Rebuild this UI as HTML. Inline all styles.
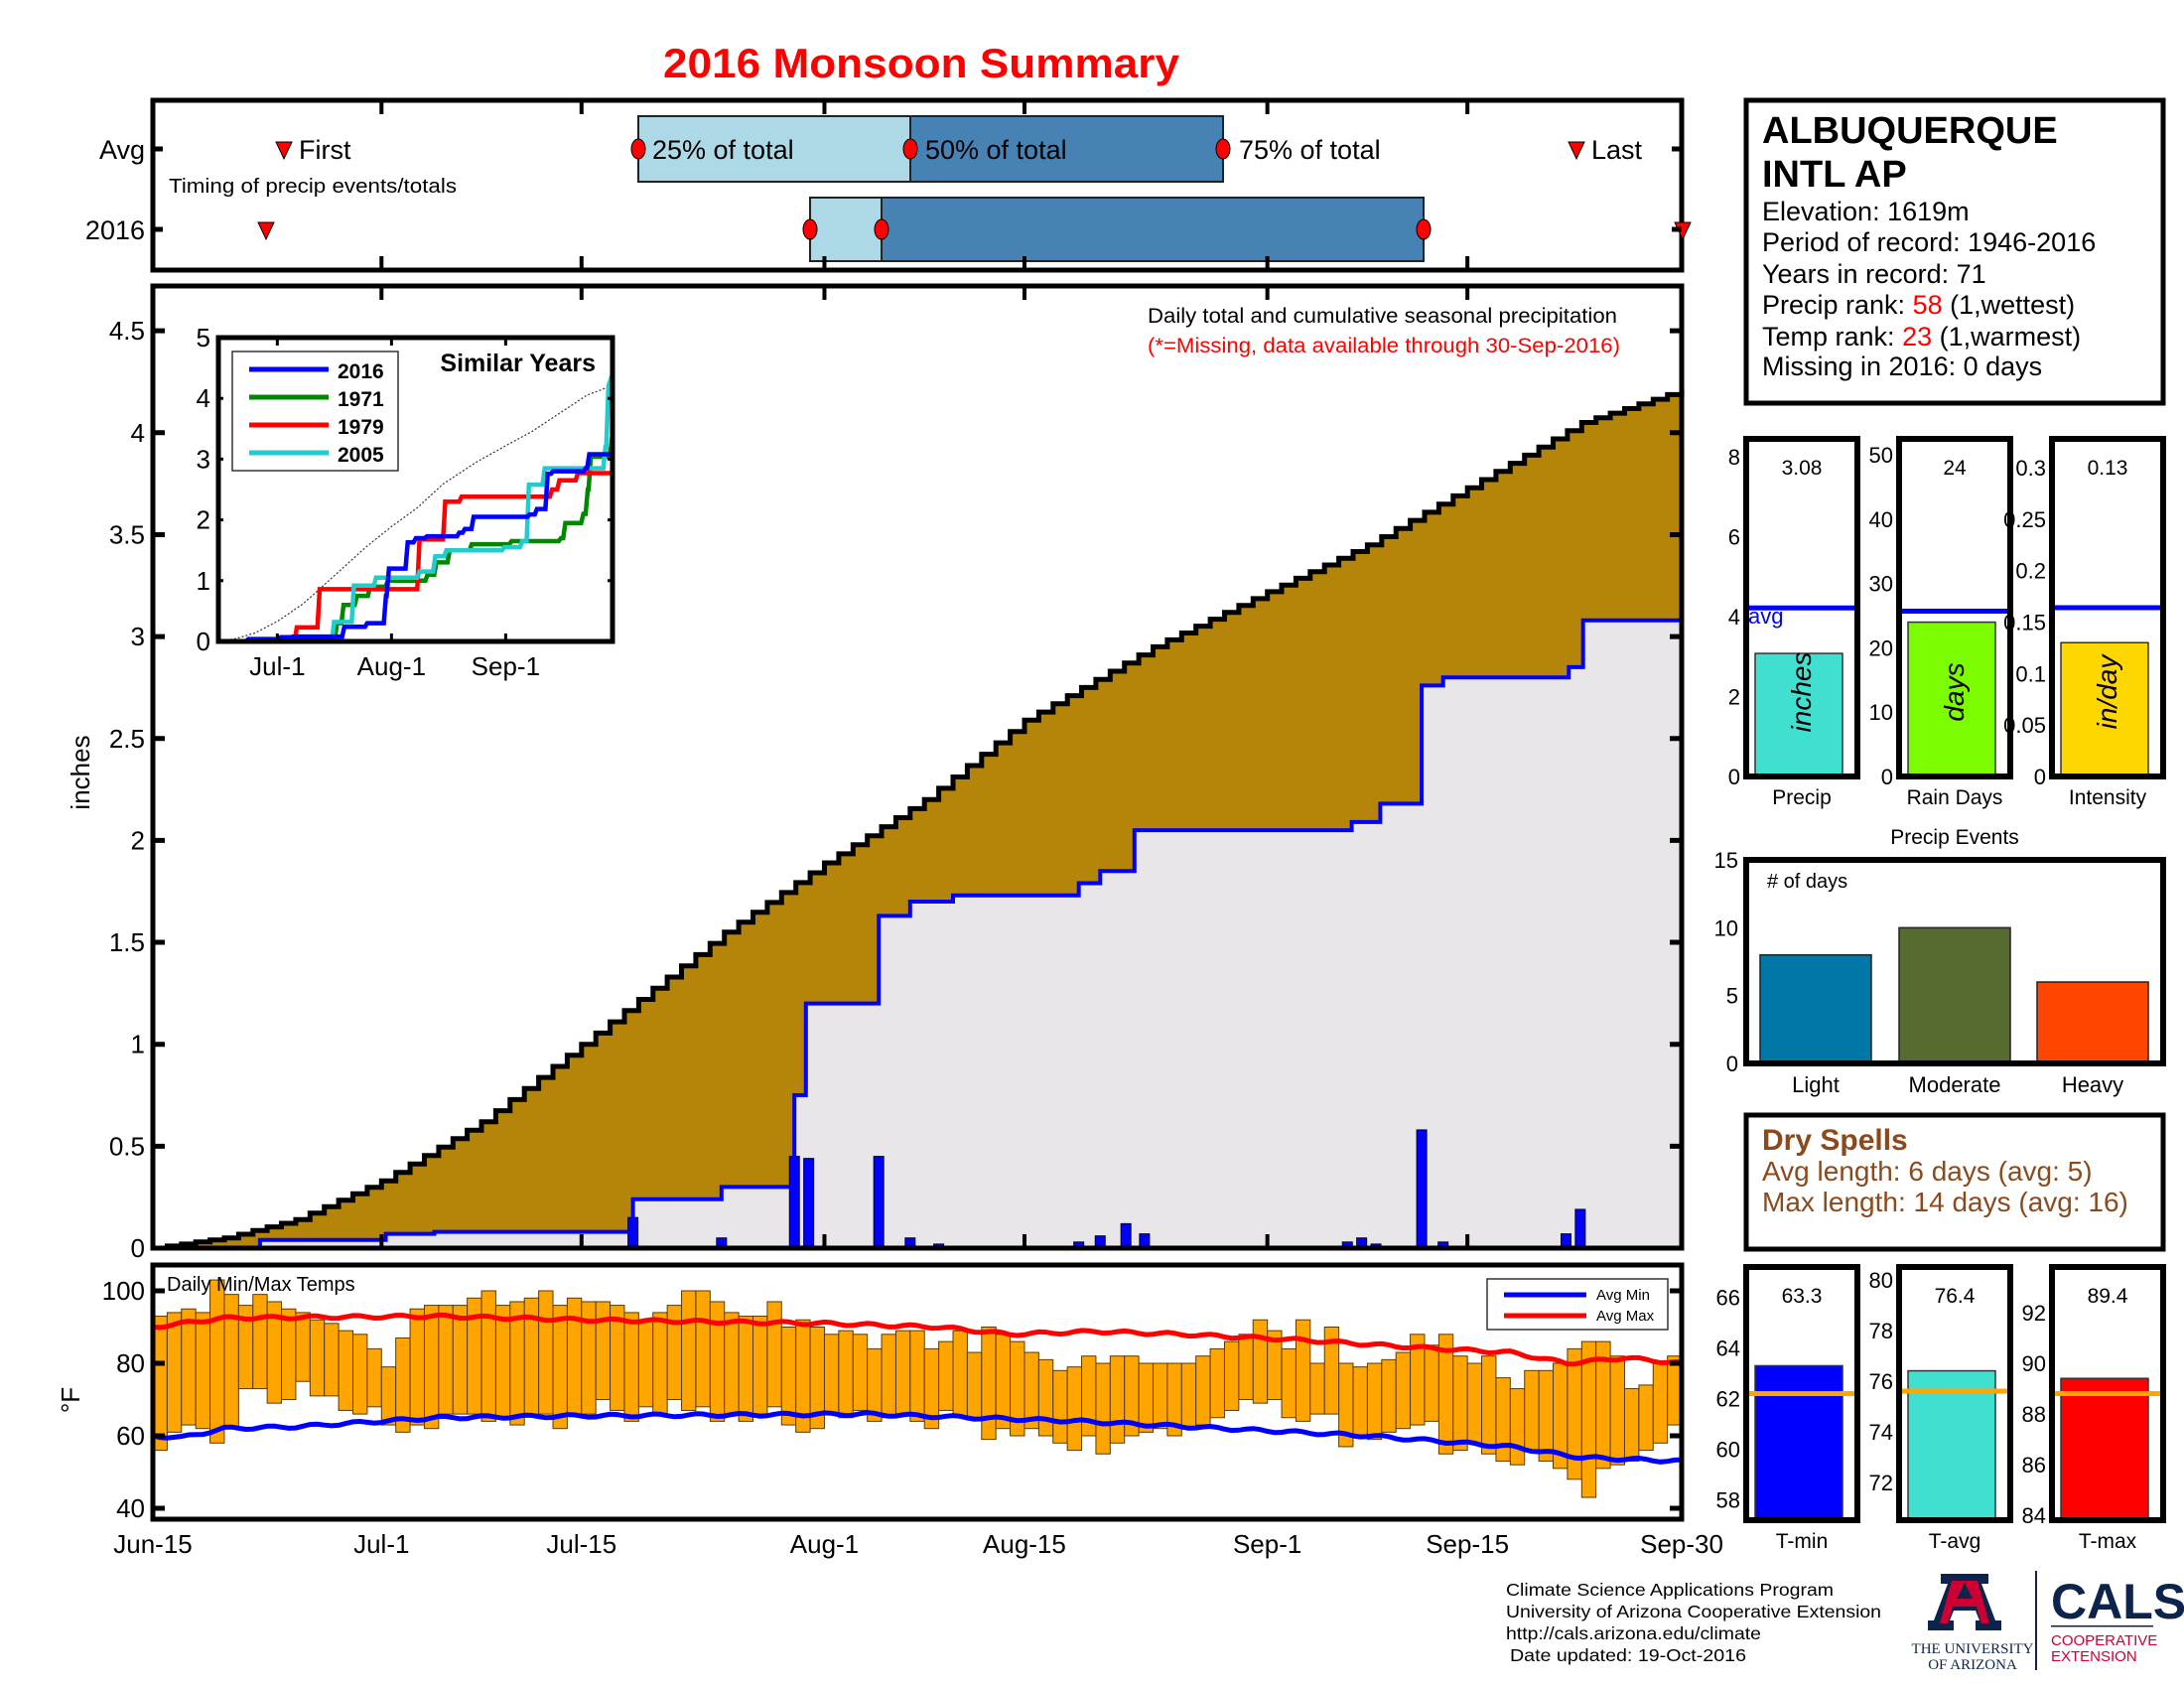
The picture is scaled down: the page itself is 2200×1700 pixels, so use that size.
<!DOCTYPE html>
<html><head><meta charset="utf-8"><style>
html,body{margin:0;padding:0;background:#fff;}
svg{display:block;font-family:"Liberation Sans",sans-serif;}
</style></head><body>
<svg id="s" width="2200" height="1700" viewBox="0 0 2200 1700" xmlns="http://www.w3.org/2000/svg">
<text x="928" y="78" font-size="42" font-weight="bold" fill="#f00" text-anchor="middle" textLength="520" lengthAdjust="spacingAndGlyphs">2016 Monsoon Summary</text>

<!-- top timing panel -->
<g id="top">
<rect x="643" y="117" width="274" height="66" fill="#add8e6" stroke="#222" stroke-width="2"/>
<rect x="917" y="117" width="315" height="66" fill="#4682b4" stroke="#222" stroke-width="2"/>
<rect x="816" y="199" width="72" height="64" fill="#add8e6" stroke="#222" stroke-width="2"/>
<rect x="888" y="199" width="546" height="64" fill="#4682b4" stroke="#222" stroke-width="2"/>
<rect x="154" y="101" width="1540" height="171" fill="none" stroke="#000" stroke-width="5"/>
<ellipse cx="643" cy="150" rx="7" ry="10" fill="#f00" stroke="#000"/>
<ellipse cx="917" cy="150" rx="7" ry="10" fill="#f00" stroke="#000"/>
<ellipse cx="1232" cy="150" rx="7" ry="10" fill="#f00" stroke="#000"/>
<ellipse cx="816" cy="231" rx="7" ry="10" fill="#f00" stroke="#000"/>
<ellipse cx="888" cy="231" rx="7" ry="10" fill="#f00" stroke="#000"/>
<ellipse cx="1434" cy="231" rx="7" ry="10" fill="#f00" stroke="#000"/>
<path d="M278 143 L294 143 L286 160 Z" fill="#f00" stroke="#000"/>
<path d="M1580 143 L1596 143 L1588 160 Z" fill="#f00" stroke="#000"/>
<path d="M260 224 L276 224 L268 241 Z" fill="#f00" stroke="#000"/>
<path d="M1687 224 L1703 224 L1695 241 Z" fill="#f00" stroke="#000"/>
<g font-size="27">
<text x="301" y="160">First</text>
<text x="1603" y="160">Last</text>
<text x="657" y="160">25% of total</text>
<text x="932" y="160">50% of total</text>
<text x="1248" y="160">75% of total</text>
<text x="146" y="160" text-anchor="end">Avg</text>
<text x="146" y="241" text-anchor="end">2016</text>
</g>
<text x="170" y="194" font-size="20" textLength="290" lengthAdjust="spacingAndGlyphs">Timing of precip events/totals</text>
<path d="M154 150h10M154 231h10M1694 150h-10M1694 231h-10" stroke="#000" stroke-width="5"/>
</g>

<g id="main"></g>
<g id="inset"></g>
<g id="temp"></g>

<!-- station box -->
<rect x="1759" y="101" width="420" height="305" fill="none" stroke="#000" stroke-width="5"/>
<g font-size="38" font-weight="bold"><text x="1775" y="144">ALBUQUERQUE</text><text x="1775" y="188">INTL AP</text></g>
<g font-size="27">
<text x="1775" y="222">Elevation: 1619m</text>
<text x="1775" y="253">Period of record: 1946-2016</text>
<text x="1775" y="285">Years in record: 71</text>
<text x="1775" y="316">Precip rank: <tspan fill="#f00">58</tspan> (1,wettest)</text>
<text x="1775" y="348">Temp rank: <tspan fill="#f00">23</tspan> (1,warmest)</text>
<text x="1775" y="378">Missing in 2016: 0 days</text>
</g>

<g id="small"></g>

<!-- dry spells -->
<rect x="1759" y="1123" width="420" height="135" fill="none" stroke="#000" stroke-width="5"/>
<g fill="#8c4a1c" font-size="28"><text x="1775" y="1158" font-weight="bold" font-size="30">Dry Spells</text>
<text x="1775" y="1189">Avg length: 6 days (avg: 5)</text>
<text x="1775" y="1220">Max length: 14 days (avg: 16)</text></g>

<!-- footer -->
<g font-size="17.5">
<text x="1517" y="1607" textLength="330" lengthAdjust="spacingAndGlyphs">Climate Science Applications Program</text>
<text x="1517" y="1629" textLength="378" lengthAdjust="spacingAndGlyphs">University of Arizona Cooperative Extension</text>
<text x="1517" y="1651" textLength="257" lengthAdjust="spacingAndGlyphs">http://cals.arizona.edu/climate</text>
<text x="1521" y="1673" textLength="238" lengthAdjust="spacingAndGlyphs">Date updated: 19-Oct-2016</text>
</g>
<!-- logos -->
<g>
<path d="M1955 1585 L2003 1585 L2003 1595 L1996 1595 L2010 1632 L2016 1632 L2016 1642 L1990 1642 L1990 1632 L1994 1632 L1990 1622 L1968 1622 L1964 1632 L1968 1632 L1968 1642 L1942 1642 L1942 1632 L1948 1632 L1962 1595 L1955 1595 Z" fill="#0c234b"/>
<path d="M1966 1592 L1992 1592 L2004 1635 L1996 1635 L1991 1618 L1967 1618 L1962 1635 L1954 1635 Z M1971 1610 L1987 1610 L1979 1594 Z" fill="#cc0033"/>
<text x="1987" y="1665" font-size="15" fill="#0c234b" text-anchor="middle" font-family="Liberation Serif,serif">THE UNIVERSITY</text>
<text x="1987" y="1681" font-size="15" fill="#0c234b" text-anchor="middle" font-family="Liberation Serif,serif">OF ARIZONA</text>
<rect x="2050" y="1582" width="2" height="100" fill="#0c234b"/>
<text x="2066" y="1630" font-size="50" font-weight="bold" fill="#0c234b">CALS</text>
<rect x="2066" y="1637" width="103" height="1.5" fill="#0c234b"/>
<text x="2066" y="1657" font-size="15" fill="#cc0033">COOPERATIVE</text>
<text x="2066" y="1673" font-size="15" fill="#cc0033">EXTENSION</text>
</g>
</svg>
<script>
var NS="http://www.w3.org/2000/svg";
function el(parent,tag,attrs,txt){var e=document.createElementNS(NS,tag);for(var k in attrs)e.setAttribute(k,attrs[k]);if(txt!=null)e.textContent=txt;document.getElementById(parent).appendChild(e);return e;}
function X(d){return 154+14.393*d;}
function Y(v){return 1257-205.3*v;}
function interp(pts,d){if(d<=pts[0][0])return pts[0][1];for(var i=1;i<pts.length;i++){if(d<=pts[i][0]){var a=pts[i-1],b=pts[i];return a[1]+(b[1]-a[1])*(d-a[0])/(b[0]-a[0]);}}return pts[pts.length-1][1];}
var N=107;
var avgPts=[[0,0],[5,0.05],[10,0.14],[16,0.33],[23,0.62],[30,1.0],[40,1.55],[47,1.89],[54,2.2],[61,2.59],[70,2.95],[78,3.22],[85,3.45],[92,3.73],[100,4.05],[107,4.21]];
var avg=[];for(var d=0;d<=N;d++)avg.push(interp(avgPts,d));
var s16=[[7.5,0.04],[16.3,0.07],[19.7,0.08],[33.6,0.24],[39.8,0.3],[44.9,0.75],[45.7,1.2],[50.8,1.63],[53,1.7],[56,1.73],[64.8,1.79],[66.3,1.85],[68.7,2.05],[83.9,2.09],[85.9,2.18],[88.8,2.76],[90.3,2.8],[99.1,2.85],[100.1,3.08]];
(function(){
 var g='main';
 el(g,'rect',{x:154,y:288,width:1540,height:969,fill:'#fff'});
 var blue="M"+X(0)+" "+Y(0);var cur=0;
 for(var i=0;i<s16.length;i++){blue+=" L"+X(s16[i][0]).toFixed(1)+" "+Y(cur).toFixed(1)+" L"+X(s16[i][0]).toFixed(1)+" "+Y(s16[i][1]).toFixed(1);cur=s16[i][1];}
 blue+=" L"+X(N)+" "+Y(cur).toFixed(1);
 var blk="M"+X(0)+" "+Y(0);
 for(var d=1;d<=N;d++){blk+=" L"+X(d).toFixed(1)+" "+Y(avg[d-1]).toFixed(1)+" L"+X(d).toFixed(1)+" "+Y(avg[d]).toFixed(1);}
 el(g,'path',{d:blk+" L"+X(N)+" 1257 L154 1257 Z",fill:'#b5850a'});
 el(g,'path',{d:blue+" L"+X(N)+" 1257 L154 1257 Z",fill:'#e8e6e9'});
 var bars=[[33.6,0.15],[39.8,0.05],[44.9,0.45],[45.9,0.44],[50.8,0.45],[53,0.05],[55,0.02],[64.8,0.03],[66.3,0.06],[68.1,0.12],[69.4,0.07],[83.6,0.03],[84.6,0.05],[85.6,0.02],[88.8,0.58],[90.3,0.03],[98.9,0.07],[99.9,0.19]];
 bars.forEach(function(b){el(g,'rect',{x:X(b[0])-5,y:Y(b[1]),width:10,height:205.3*b[1],fill:'#00f',stroke:'#003',"stroke-width":1});});
 el(g,'path',{d:blue,fill:'none',stroke:'#00f','stroke-width':4});
 el(g,'path',{d:blk,fill:'none',stroke:'#000','stroke-width':5});
 el(g,'rect',{x:154,y:288,width:1540,height:969,fill:'none',stroke:'#000','stroke-width':5});
 var ticks=[16,30,47,61,78,92];
 ticks.forEach(function(d){el(g,'path',{d:"M"+X(d)+" 288v14M"+X(d)+" 1257v-14M"+X(d)+" 101v14M"+X(d)+" 272v-14M"+X(d)+" 1274v14M"+X(d)+" 1530v-14",stroke:'#000','stroke-width':4});});
 for(var v=0;v<=4.5;v+=0.5){var y=Y(v);el(g,'path',{d:"M154 "+y+"h12M1694 "+y+"h-12",stroke:'#000','stroke-width':5});
  el(g,'text',{x:146,y:y+9,'font-size':26,'text-anchor':'end'},(v===0?'0':String(v)));}
 el(g,'text',{x:0,y:0,'font-size':26,transform:'translate(90,778) rotate(-90)','text-anchor':'middle'},'inches');
 el(g,'text',{x:1156,y:325,'font-size':21,textLength:473,lengthAdjust:'spacingAndGlyphs'},'Daily total and cumulative seasonal precipitation');
 el(g,'text',{x:1156,y:355,'font-size':21,fill:'#f00',textLength:476,lengthAdjust:'spacingAndGlyphs'},'(*=Missing, data available through 30-Sep-2016)');
})();
(function(){
 var g='inset';
 function IX(d){return 220+3.71*d;} function IY(v){return 646-61.2*v;}
 el(g,'rect',{x:220,y:340,width:397,height:306,fill:'#fff'});
 var dp="M"+IX(0)+" "+IY(0);for(var d=1;d<=N;d++)dp+=" L"+IX(d).toFixed(1)+" "+IY(avg[d]).toFixed(1);
 el(g,'path',{d:dp,fill:'none',stroke:'#333','stroke-width':1.2,'stroke-dasharray':'2,2'});
 function sline(steps,col,end){var p="M"+IX(0)+" "+IY(0),c=0;steps.forEach(function(s){p+=" L"+IX(s[0]).toFixed(1)+" "+IY(c).toFixed(1)+" L"+IX(s[0]+0.6).toFixed(1)+" "+IY(s[1]).toFixed(1);c=s[1];});p+=" L"+IX(N)+" "+IY(end!=null?end:c).toFixed(1);el(g,'path',{d:p,fill:'none',stroke:col,'stroke-width':4.5});}
 sline([[20.7,0.04],[31.6,0.3],[33.4,0.6],[37,0.75],[40.6,0.9],[45.4,1.0],[56.2,1.1],[58.6,1.3],[62.2,1.5],[68.2,1.6],[79,1.65],[92.4,1.7],[93.6,1.95],[98.5,2.1],[99.7,2.5],[100.5,3.04],[106,3.2]],'#080',3.42);
 sline([[20.7,0.23],[26.9,0.86],[54,1.68],[61,2.3],[65.4,2.38],[90,2.5],[92,2.65],[97,2.77]],'#f00');
 sline([[30.8,0.32],[36.2,0.92],[42.2,1.05],[54,1.15],[58.3,1.4],[61.3,1.5],[77,1.55],[81.9,1.65],[83.7,2.58],[88,2.85],[104.5,3.2],[105.3,4.2]],'#2cc',4.4);
 sline(s16,'#00f');
 el(g,'rect',{x:220,y:340,width:397,height:306,fill:'none',stroke:'#000','stroke-width':5});
 [16,47,78].forEach(function(d,i){el(g,'path',{d:"M"+IX(d)+" 646v-8M"+IX(d)+" 340v8",stroke:'#000','stroke-width':3});el(g,'text',{x:IX(d),y:680,'font-size':26,'text-anchor':'middle'},['Jul-1','Aug-1','Sep-1'][i]);});
 for(var v=0;v<=5;v++){el(g,'text',{x:212,y:IY(v)+9,'font-size':26,'text-anchor':'end'},String(v));el(g,'path',{d:"M220 "+IY(v)+"h5M617 "+IY(v)+"h-5",stroke:'#000','stroke-width':3});}
 el(g,'rect',{x:234,y:354,width:167,height:120,fill:'#fff',stroke:'#333','stroke-width':1.5});
 [['2016','#00f'],['1971','#080'],['1979','#f00'],['2005','#2cc']].forEach(function(a,i){var y=372+28*i;el(g,'path',{d:"M251 "+y+"h80",stroke:a[1],'stroke-width':5});el(g,'text',{x:340,y:y+9,'font-size':21,'font-weight':'bold'},a[0]);});
 el(g,'text',{x:600,y:374,'font-size':25,'font-weight':'bold','text-anchor':'end'},'Similar Years');
})();
(function(){
 var g='temp';
 function T(t){return 1300+(100-t)*3.65;}
 var hi=[93,94,95,94,103,99,96,99,97,95,94,92,91,89,88,84,79,87,95,96,96,96,98,100,96,97,98,100,96,98,97,97,96,94,92,94,96,100,100,97,94,93,93,97,90,92,90,88,89,88,84,88,89,89,84,86,89,83,90,88,86,83,81,78,79,82,80,82,82,80,80,80,80,82,84,86,88,92,89,84,92,80,90,80,79,80,81,83,88,85,88,82,80,82,76,73,78,78,80,84,86,86,82,73,74,80,82];
 var lo=[56,61,63,62,58,62,73,73,69,70,75,71,71,67,66,68,63,61,63,62,66,66,66,64,65,63,66,66,62,66,66,70,67,64,68,66,70,67,68,64,66,64,66,68,63,61,62,66,65,67,64,65,66,64,62,67,65,65,59,62,60,62,60,58,56,60,55,58,60,61,62,60,62,63,65,67,70,69,70,65,64,66,66,57,60,59,61,62,63,64,55,56,58,55,53,52,56,53,51,48,43,51,52,53,56,58,63];
 el(g,'rect',{x:154,y:1274,width:1540,height:256,fill:'#fff'});
 for(var d=0;d<N;d++){var h=hi[d%hi.length],l=lo[d%lo.length];el(g,'rect',{x:X(d),y:T(h),width:14.39,height:(h-l)*3.65,fill:'#ffa500',stroke:'#5a3a00','stroke-width':1});}
 var amin=[[0,60],[2,59.5],[5,62],[10,62.5],[20,65],[30,65.5],[50,66],[65,64],[75,62],[85,60],[95,57],[100,54],[107,53]];
 var amax=[[0,90],[5,92.5],[20,93],[30,92],[47,91],[55,90],[60,88],[66,88.8],[72,88],[80,86.5],[90,84],[95,83],[99,80],[103,81.5],[107,80]];
 function ln(pts,c){var p="";for(var d=0;d<=N;d+=0.5){p+=(d?" L":"M")+X(d).toFixed(1)+" "+(T(interp(pts,d))+Math.sin(d*2.1)*1.5).toFixed(1);}el(g,'path',{d:p,fill:'none',stroke:c,'stroke-width':5});}
 ln(amin,'#00f');ln(amax,'#f00');
 el(g,'rect',{x:154,y:1274,width:1540,height:256,fill:'none',stroke:'#000','stroke-width':5});
 [100,80,60,40].forEach(function(t){el(g,'path',{d:"M154 "+T(t)+"h12M1694 "+T(t)+"h-12",stroke:'#000','stroke-width':5});el(g,'text',{x:146,y:T(t)+9,'font-size':26,'text-anchor':'end'},String(t));});
 el(g,'text',{x:0,y:0,'font-size':26,transform:'translate(80,1410) rotate(-90)','text-anchor':'middle'},'°F');
 el(g,'text',{x:168,y:1300,'font-size':20},'Daily Min/Max Temps');
 el(g,'rect',{x:1498,y:1288,width:182,height:51,fill:'#fff',stroke:'#333','stroke-width':1.5});
 el(g,'path',{d:"M1515 1304h83",stroke:'#00f','stroke-width':5});el(g,'path',{d:"M1515 1325h83",stroke:'#f00','stroke-width':5});
 el(g,'text',{x:1608,y:1309,'font-size':15},'Avg Min');el(g,'text',{x:1608,y:1330,'font-size':15},'Avg Max');
 var labs=['Jun-15','Jul-1','Jul-15','Aug-1','Aug-15','Sep-1','Sep-15','Sep-30'],ds=[0,16,30,47,61,78,92,107];
 ds.forEach(function(d,i){el(g,'text',{x:X(d),y:1564,'font-size':26,'text-anchor':'middle'},labs[i]);});
})();
(function(){
 var g='small';
 function panel(x0,top,bot,min,max,ticks,bar,avgv,col,avgcol,val,vert,label,fmt,avgtext){
  var w=112;function Yv(v){return bot-(v-min)/(max-min)*(bot-top);}
  el(g,'rect',{x:x0+9,y:Yv(bar),width:w-18-6,height:bot-Yv(bar),fill:col,stroke:'#333','stroke-width':1.5});
  el(g,'path',{d:"M"+(x0+2)+" "+Yv(avgv)+"h"+(w-4),stroke:avgcol,'stroke-width':5});
  el(g,'rect',{x:x0,y:top,width:w,height:bot-top,fill:'none',stroke:'#000','stroke-width':6});
  ticks.forEach(function(t){el(g,'text',{x:x0-6,y:Yv(t)+8,'font-size':22,'text-anchor':'end'},fmt?fmt(t):String(t));});
  el(g,'text',{x:x0+w/2,y:top+36,'font-size':21,'text-anchor':'middle'},val);
  el(g,'text',{x:x0+w/2,y:bot+28,'font-size':21,'text-anchor':'middle'},label);
  if(vert)el(g,'text',{x:0,y:0,'font-size':28,'font-style':'italic','text-anchor':'middle',transform:'translate('+(x0+w/2+9)+','+(bot-85)+') rotate(-90)'},vert);
  if(avgtext)el(g,'text',{x:x0+2,y:Yv(avgv)+16,'font-size':22,fill:'#00f'},avgtext);
 }
 panel(1759,442,782,0,8.45,[0,2,4,6,8],3.08,4.22,'#40e0d0','#00f','3.08','inches','Precip',null,'avg');
 panel(1913,442,782,0,52.5,[0,10,20,30,40,50],24,25.7,'#7cfc00','#00f','24','days','Rain Days');
 panel(2067,442,782,0,0.328,[0,0.05,0.1,0.15,0.2,0.25,0.3],0.13,0.164,'#ffd700','#00f','0.13','in/day','Intensity');
 el(g,'text',{x:1969,y:850,'font-size':21,'text-anchor':'middle'},'Precip Events');
 panel(1759,1276,1531,57.2,67.2,[58,60,62,64,66],63.3,62.2,'#00f','#ffa500','63.3',null,'T-min');
 panel(1913,1276,1531,70.5,80.5,[72,74,76,78,80],76.4,75.6,'#40e0d0','#ffa500','76.4',null,'T-avg');
 panel(2067,1276,1531,83.8,93.8,[84,86,88,90,92],89.4,88.8,'#f00','#ffa500','89.4',null,'T-max');
 function EY(v){return 1071-v*205/15;}
 [[1773,8,'#0077a6','Light'],[1913,10,'#556b2f','Moderate'],[2052,6,'#ff4500','Heavy']].forEach(function(b){el(g,'rect',{x:b[0],y:EY(b[1]),width:112,height:1071-EY(b[1]),fill:b[2],stroke:'#222','stroke-width':1.5});el(g,'text',{x:b[0]+56,y:1100,'font-size':22,'text-anchor':'middle'},b[3]);});
 el(g,'rect',{x:1759,y:866,width:420,height:205,fill:'none',stroke:'#000','stroke-width':6});
 [0,5,10,15].forEach(function(v){el(g,'text',{x:1751,y:EY(v)+8,'font-size':22,'text-anchor':'end'},String(v));});
 el(g,'text',{x:1780,y:894,'font-size':20},'# of days');
})();
</script>
</body></html>
